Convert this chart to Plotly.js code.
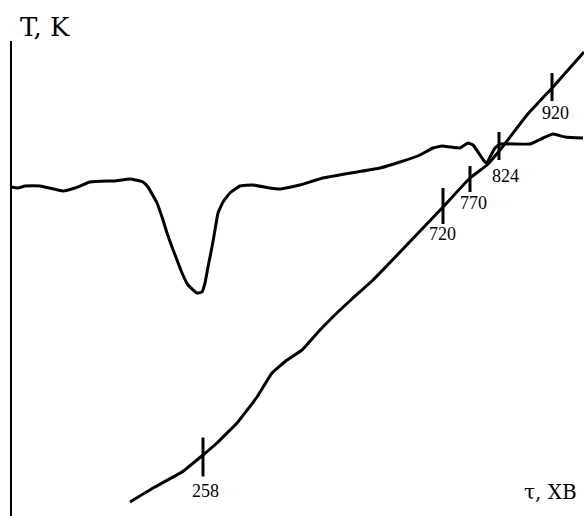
<!DOCTYPE html>
<html>
<head>
<meta charset="utf-8">
<script src="https://cdn.plot.ly/plotly-3.0.1.min.js"></script>
<style>html,body{margin:0;padding:0;background:#fff}#chart{width:584px;height:516px}</style>
</head>
<body>
<div id="chart"></div>
<script>
// DTA curve (time, signal) in chart units
var dtaX = [11,18,25,40,63,75,90,107,115,130,143,148,157,163,167,172,177,182,188,197,202,205,208,212,215,218,223,230,240,253,270,280,300,323,357,380,400,420,433,442,450,460,468,473,480,485,487,490,495,500,530,543,553,565,583];
var dtaY = [187,188,186,186,191,188,182,181,181,179,182,187,203,220,233,247,260,273,285,293,292,283,267,247,230,213,202,193,186,185,188,189,185,178,172,168,162,155,148,146,147,148,143,145,155,162,163,157,148,144,144,138,134,137,138];
// Temperature curve
var tempX = [130,153,182,203,217,237,257,272,287,302,320,340,353,373,402,443,470,487,500,527,553,584];
var tempY = [502,488,472,455,443,423,397,373,360,350,330,310,298,280,250,207,178,165,150,115,87,52];
// Marked temperatures
var markLabels = ["258","720","770","824","920"];
var markX = [203,443,470,499,552];
var markY = [457,206,179,146,87];
var markLen = [39,36,26,28,28];
var labelDX = [2,-1,3,6,3];
var labelY = [491,234,203,176,113];

// tick segments built from the mark arrays
var tickX = [], tickY = [];
markX.forEach(function(x,i){
  tickX.push(x, x, null);
  tickY.push(markY[i]-markLen[i]/2, markY[i]+markLen[i]/2, null);
});

var lineStyle = {color:'#000', width:3, shape:'spline', smoothing:0.3};
var traces = [
  {x:dtaX, y:dtaY, mode:'lines', line:lineStyle, hoverinfo:'skip'},
  {x:tempX, y:tempY, mode:'lines', line:lineStyle, hoverinfo:'skip'},
  {x:tickX, y:tickY, mode:'lines', line:{color:'#000', width:3}, hoverinfo:'skip', connectgaps:false}
];

var annotations = markLabels.map(function(t,i){
  return {x:markX[i]+labelDX[i], y:labelY[i], xref:'x', yref:'y', text:t, showarrow:false,
    font:{family:'Liberation Serif, Times New Roman, serif', size:18, color:'#000'},
    xanchor:'center', yanchor:'middle'};
});
annotations.push({x:45, y:27, xref:'x', yref:'y', text:'T, K', showarrow:false,
  font:{family:'DejaVu Serif, serif', size:26, color:'#000'},
  xanchor:'center', yanchor:'middle'});
annotations.push({x:550, y:492, xref:'x', yref:'y', text:'τ, ХВ', showarrow:false,
  font:{family:'DejaVu Serif, serif', size:20, color:'#000'},
  xanchor:'center', yanchor:'middle'});

var layout = {
  width:584, height:516,
  margin:{l:0,r:0,t:0,b:0},
  paper_bgcolor:'#fff', plot_bgcolor:'#fff',
  showlegend:false,
  xaxis:{range:[0,584], visible:false, fixedrange:true},
  yaxis:{range:[516,0], visible:false, fixedrange:true},
  shapes:[{type:'line', xref:'x', yref:'y', x0:11, x1:11, y0:41, y1:516, line:{color:'#000', width:2}}],
  annotations:annotations
};
Plotly.newPlot('chart', traces, layout, {displayModeBar:false, staticPlot:true});
</script>
</body>
</html>
